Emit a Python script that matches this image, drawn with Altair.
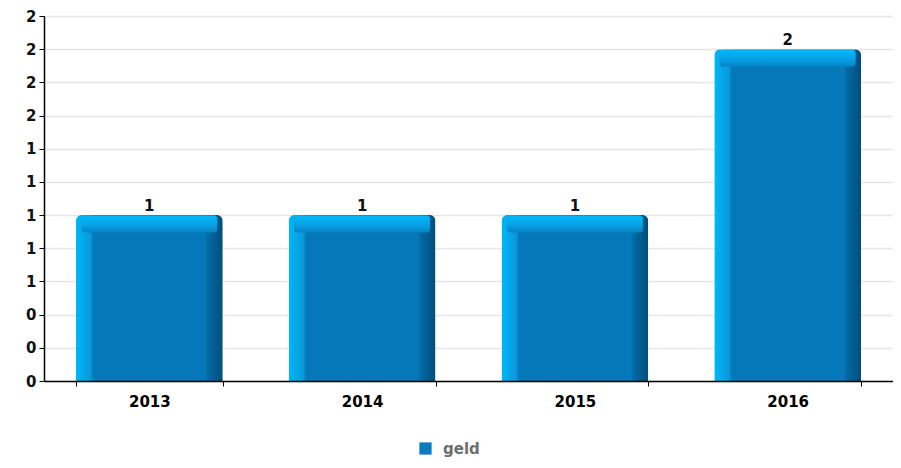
import altair as alt
import pandas as pd

years = ["2013", "2014", "2015", "2016"]
values = [1, 1, 1, 2]
series = ["geld", "geld", "geld", "geld"]
y_ticks = [0, 0.2, 0.4, 0.6, 0.8, 1.0, 1.2, 1.4, 1.6, 1.8, 2.0, 2.2]

df = pd.DataFrame({"year": years, "value": values, "series": series})

FONT = "DejaVu Sans"

x_enc = alt.X("year:N", title=None, sort=years,
              scale=alt.Scale(paddingInner=0.31, paddingOuter=0.15),
              axis=alt.Axis(labelAngle=0, labelFont=FONT, labelFontWeight="bold",
                            labelFontSize=15, labelColor="#000", labelPadding=8,
                            domainColor="#000", domainWidth=1.5, tickColor="#000",
                            tickBand="extent", tickSize=5, grid=False, zindex=1))
y_scale = alt.Scale(domain=[0, 2.2], nice=False)
y_axis = alt.Axis(values=y_ticks, format=".0f", labelFont=FONT, labelFontWeight="bold",
                  labelFontSize=15, labelColor="#111", domainColor="#000", domainWidth=1.5,
                  tickColor="#000", tickSize=5, gridColor="#e6e6e6", gridWidth=1.5,
                  labelPadding=3, labelOverlap=False, labelBound=False, labelFlush=False)
y_enc = alt.Y("value:Q", title=None, scale=y_scale, axis=y_axis)

side_grad = alt.Gradient(
    gradient="linear", x1=0, y1=0, x2=1, y2=0,
    stops=[
        alt.GradientStop(offset=0, color="#00b8f8"),
        alt.GradientStop(offset=0.10, color="#0a98da"),
        alt.GradientStop(offset=0.12, color="#0478b8"),
        alt.GradientStop(offset=0.88, color="#0478b8"),
        alt.GradientStop(offset=0.90, color="#036aa3"),
        alt.GradientStop(offset=1, color="#024d78"),
    ],
)
top_grad = alt.Gradient(
    gradient="linear", x1=0, y1=0, x2=0, y2=1,
    stops=[
        alt.GradientStop(offset=0, color="#00b8f8"),
        alt.GradientStop(offset=0.5, color="#08a4e8"),
        alt.GradientStop(offset=1, color="#0582c4"),
    ],
)

base = alt.Chart(df)

bars = base.mark_bar(fill=side_grad, cornerRadiusTopLeft=6, cornerRadiusTopRight=6).encode(
    x=x_enc, y=y_enc,
)

cap = base.mark_tick(fill=top_grad, orient="horizontal", thickness=17, size=136,
                     yOffset=9, opacity=1, cornerRadius=3).encode(
    x=x_enc, y=y_enc,
)

labels = base.mark_text(baseline="bottom", dy=-1, font=FONT, fontWeight="bold",
                        fontSize=15, color="#111").encode(
    x=x_enc, y=y_enc, text=alt.Text("value:Q", format=".0f"),
)

legend_layer = base.mark_point(shape="square", filled=True, opacity=0).encode(
    x=x_enc, y=y_enc,
    color=alt.Color("series:N", scale=alt.Scale(domain=["geld"], range=["#0a7bc0"]),
                    legend=alt.Legend(title=None, orient="none", legendX=374, legendY=425,
                                      symbolType="square", symbolSize=150, symbolOpacity=1,
                                      symbolStrokeWidth=0,
                                      labelFont=FONT, labelFontWeight="bold", labelFontSize=15,
                                      labelColor="#6e6e6e", labelOffset=10)),
)

chart = alt.layer(bars, cap, labels, legend_layer).properties(
    width=849, height=365,
    autosize=alt.AutoSizeParams(type="none"),
    padding={"left": 36, "top": 8, "right": 0, "bottom": 79},
).configure_view(stroke=None)

chart.save("out.html", embed_options={"renderer": "svg", "actions": False})
